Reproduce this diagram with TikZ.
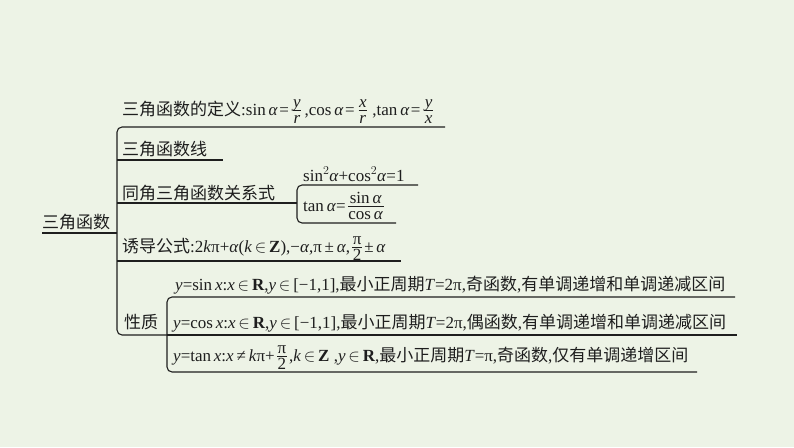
\documentclass[tikz,border=0pt]{standalone}
\usepackage{amsmath}
\usepackage{fontspec}
\setmainfont{Liberation Serif}
\newfontfamily\cjk{Noto Sans CJK SC}
\definecolor{bg}{RGB}{237,243,230}
\definecolor{ink}{RGB}{30,30,30}
\newcommand\I[1]{\textit{#1}}
\newcommand\Al{\textit{α}}
\newcommand\In{\,$\in$\,}
\newcommand\Eq{\kern1.5pt=\kern1.5pt}
\newcommand\Fr[2]{\kern2pt\tikz[baseline={(0pt,-4.5pt)}]{%
  \node[inner sep=0pt,anchor=base,text=ink] (fnum) at (0pt,3.4pt) {#1};
  \node[inner sep=0pt,anchor=base,text=ink] (fden) at (0pt,-12.8pt) {#2};
  \coordinate (fz) at (0pt,0pt);
  \coordinate (fl) at (current bounding box.west);
  \coordinate (fr) at (current bounding box.east);
  \draw[draw=ink,line width=0.7pt] ([xshift=-0.5pt]fl |- fz) -- ([xshift=0.5pt]fr |- fz);}\kern2pt}
\begin{document}
\begin{tikzpicture}[x=1pt,y=-1pt,
  txt/.style={inner sep=0pt,anchor=base west,text=ink,font=\fontsize{17pt}{20pt}\selectfont},
  ln/.style={draw=ink,line width=1.1pt},
  brk/.style={ln,rounded corners=5pt}]
\fill[bg] (0,0) rectangle (794,447);
\useasboundingbox (0,0) rectangle (794,447);
% coordinates
\coordinate (rootL) at (42,233);
\coordinate (rootJ) at (117,233);
\coordinate (topE) at (445,127);
\coordinate (topC) at (117,127);
\coordinate (botC) at (117,335);
\coordinate (xzE) at (167,335);
\coordinate (sxJ) at (117,160);
\coordinate (sxE) at (223,160);
\coordinate (tjJ) at (117,203);
\coordinate (tjE) at (297,203);
\coordinate (ydJ) at (117,261);
\coordinate (ydE) at (401,261);
\coordinate (s2E) at (418,185);
\coordinate (s2C) at (297,185);
\coordinate (tnC) at (297,223);
\coordinate (tnE) at (396,223);
\coordinate (ysE) at (735,297);
\coordinate (ysC) at (167,297);
\coordinate (ycE) at (737,335);
\coordinate (ytC) at (167,372);
\coordinate (ytE) at (697,372);
% texts
\node[txt] (root) at (42,228) {\cjk 三角函数};
\node[txt] (def) at (122,115) {{\cjk 三角函数的定义}:sin\,\Al\Eq\Fr{\I{y}}{\I{r}}\kern1pt,cos\,\Al\Eq\Fr{\I{x}}{\I{r}}\kern3pt,tan\,\Al\Eq\Fr{\I{y}}{\I{x}}};
\node[txt] (sx) at (122,155) {\cjk 三角函数线};
\node[txt] (tj) at (122,199) {\cjk 同角三角函数关系式};
\node[txt] (s2) at (303,181) {sin$^2$\Al+cos$^2$\Al=1};
\node[txt] (tn) at (303,211) {tan\,\Al=\Fr{sin\,\Al}{cos\,\Al}};
\node[txt] (yd) at (122,252) {{\cjk 诱导公式}:2\I{k}π+\Al(\I{k}\In\textbf{Z}),−\Al,π\,±\,\Al,\Fr{π}{2}±\,\Al};
\node[txt] (xz) at (124,328) {\cjk 性质};
\node[txt] (ys) at (175,290) {\I{y}=sin\,\I{x}:\I{x}\In\textbf{R},\I{y}\In[−1,1],{\cjk 最小正周期}\I{T}=2π,{\cjk 奇函数},{\cjk 有单调递增和单调递减区间}};
\node[txt] (yc) at (173,328) {\I{y}=cos\,\I{x}:\I{x}\In\textbf{R},\I{y}\In[−1,1],{\cjk 最小正周期}\I{T}=2π,{\cjk 偶函数},{\cjk 有单调递增和单调递减区间}};
\node[txt] (yt) at (173,361) {\I{y}=tan\,\I{x}:\I{x}\,≠\,\I{k}π+\Fr{π}{2},\I{k}\In\textbf{Z} ,\I{y}\In\textbf{R},{\cjk 最小正周期}\I{T}=π,{\cjk 奇函数},{\cjk 仅有单调递增区间}};
% lines
\draw[ln] (rootL) -- (rootJ);
\draw[brk] (topE) -- (topC) -- (botC) -- (xzE);
\draw[ln] (sxJ) -- (sxE);
\draw[ln] (tjJ) -- (tjE);
\draw[ln] (ydJ) -- (ydE);
\draw[brk] (s2E) -- (s2C) -- (tnC) -- (tnE);
\draw[brk] (ysE) -- (ysC) -- (ytC) -- (ytE);
\draw[ln] (xzE) -- (ycE);
\end{tikzpicture}
\end{document}
